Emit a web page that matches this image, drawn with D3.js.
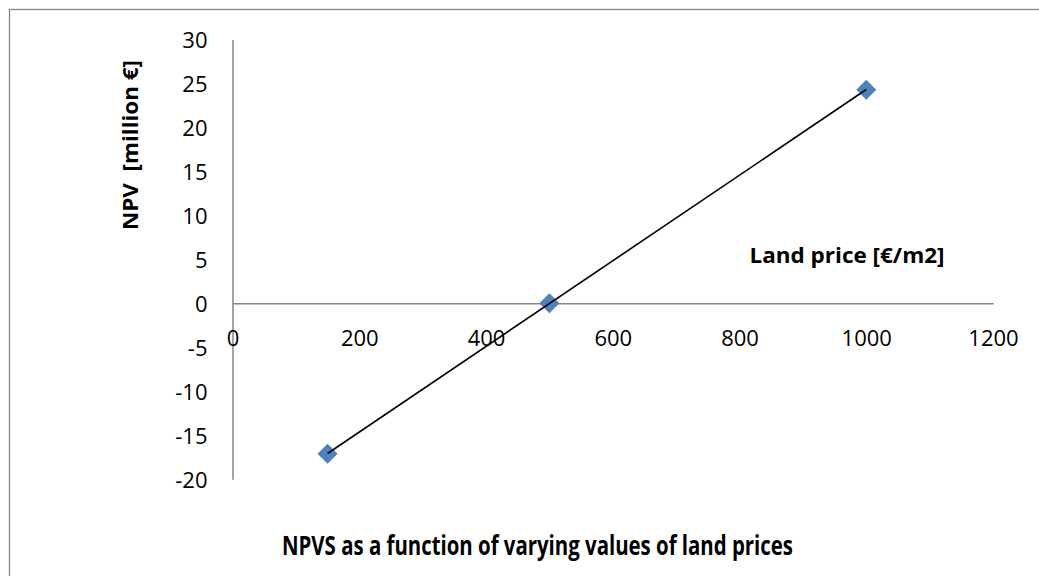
<!DOCTYPE html>
<html>
<head>
<meta charset="utf-8">
<script src="https://cdn.jsdelivr.net/npm/d3@7"></script>
<style>
  html, body { margin: 0; padding: 0; background: #fff; }
  svg { display: block; }
  text { font-family: "Open Sans", "Liberation Sans", sans-serif; fill: #000; }
</style>
</head>
<body>
<svg id="chart" width="1039" height="576"></svg>
<script>
// ---- data ----
const landPrice = [150, 500, 1000];
const npv = [-17.1, 0, 24.3];
const xTicks = [0, 200, 400, 600, 800, 1000, 1200];
const yTicks = [-20, -15, -10, -5, 0, 5, 10, 15, 20, 25, 30];
const title = "NPVS as a function of varying values of land prices";
const xTitle = "Land price [€/m2]";
const yTitle = "NPV  [million €]";

const svg = d3.select("#chart");
const W = 1039, H = 576;
const fmt = d => String(d); // plain hyphen minus, as in the reference

// outer chart border (extends beyond the picture on right/bottom)
svg.append("rect")
  .attr("x", 9.5).attr("y", 9.5)
  .attr("width", W + 20).attr("height", H + 20)
  .attr("fill", "#fff").attr("stroke", "#868686").attr("stroke-width", 1.3);

const x = d3.scaleLinear().domain([0, 1200]).range([232.5, 993]);
const y = d3.scaleLinear().domain([-20, 30]).range([479.2, 39.5]);

// y axis
const yAxis = svg.append("g")
  .attr("transform", `translate(${x(0)},0)`)
  .call(d3.axisLeft(y).tickValues(yTicks).tickSize(0).tickPadding(25).tickFormat(fmt));
yAxis.select(".domain").attr("stroke", "#868686").attr("stroke-width", 1.5);
yAxis.selectAll("text").attr("font-size", 22).attr("font-family", "Open Sans").attr("dy", "0.36em");

// x axis (at y = 0), labels below
const xAxis = svg.append("g")
  .attr("transform", `translate(0,${y(0)})`)
  .call(d3.axisBottom(x).tickValues(xTicks).tickSize(0).tickPadding(27).tickFormat(fmt));
xAxis.select(".domain").attr("stroke", "#868686").attr("stroke-width", 1.5);
xAxis.selectAll("text").attr("font-size", 22).attr("font-family", "Open Sans");

// markers (diamonds)
const pts = landPrice.map((v, i) => ({ x: v, y: npv[i] }));
svg.append("g").selectAll("path.m")
  .data(pts).join("path")
  .attr("class", "m")
  .attr("transform", d => `translate(${x(d.x)},${y(d.y)}) rotate(45)`)
  .attr("d", d3.symbol().type(d3.symbolSquare).size(200))
  .attr("fill", "#4F81BD");

// linear trendline (least squares) over data range
const mx = d3.mean(landPrice), my = d3.mean(npv);
const sxy = d3.sum(landPrice, (v, i) => (v - mx) * (npv[i] - my));
const sxx = d3.sum(landPrice, v => (v - mx) * (v - mx));
const slope = sxy / sxx, intercept = my - slope * mx;
const ext = d3.extent(landPrice);
const trend = ext.map(v => ({ x: v, y: intercept + slope * v }));
svg.append("path")
  .datum(trend)
  .attr("d", d3.line().x(d => x(d.x)).y(d => y(d.y)))
  .attr("fill", "none").attr("stroke", "#000").attr("stroke-width", 1.6);

// axis titles
svg.append("text")
  .attr("x", 847).attr("y", 263)
  .attr("text-anchor", "middle")
  .attr("font-weight", "bold").attr("font-size", 21)
  .attr("textLength", 195).attr("lengthAdjust", "spacingAndGlyphs")
  .text(xTitle);

svg.append("text")
  .attr("transform", "translate(138,145) rotate(-90)")
  .attr("text-anchor", "middle")
  .attr("font-weight", "bold").attr("font-size", 21)
  .attr("textLength", 170).attr("lengthAdjust", "spacingAndGlyphs")
  .attr("xml:space", "preserve")
  .text(yTitle);

// chart title
svg.append("text")
  .attr("x", 537.5).attr("y", 555)
  .attr("text-anchor", "middle")
  .attr("font-weight", "bold").attr("font-size", 26)
  .attr("textLength", 511).attr("lengthAdjust", "spacingAndGlyphs")
  .text(title);
</script>
</body>
</html>
